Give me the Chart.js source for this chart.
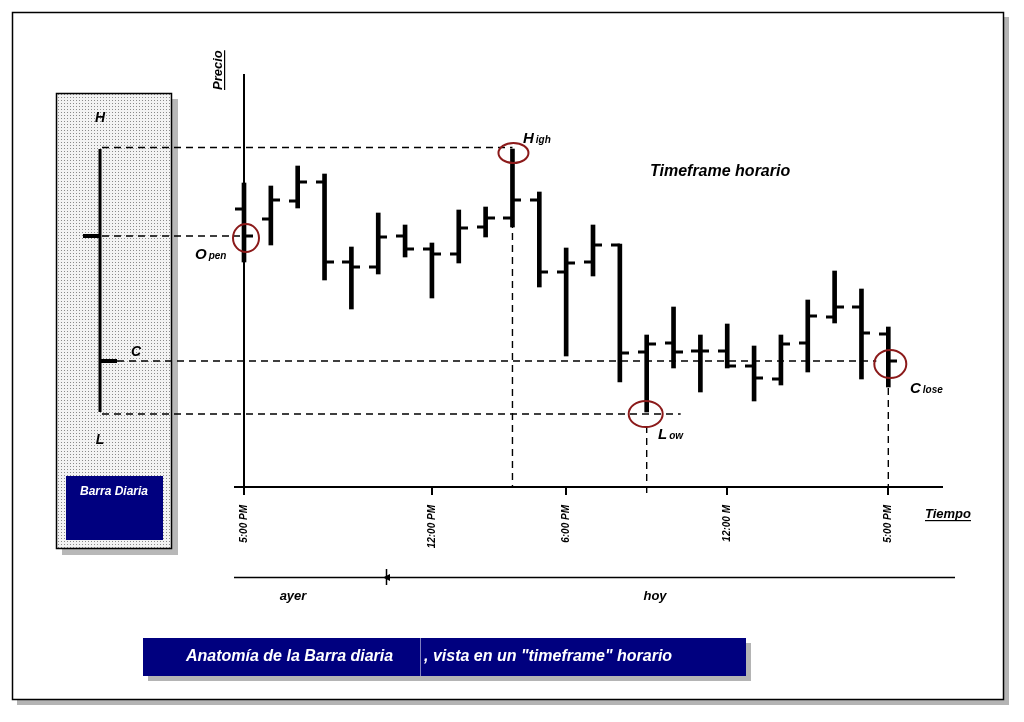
<!DOCTYPE html>
<html>
<head>
<meta charset="utf-8">
<script src="https://cdn.jsdelivr.net/npm/chart.js@4.4.1/dist/chart.umd.min.js"></script>
<style>
  html, body { margin: 0; padding: 0; background: #fff; }
  canvas { display: block; }
</style>
</head>
<body>
<canvas id="barChart" width="1024" height="722"></canvas>
<script>
// Hourly bars (price in arbitrary units)
const hours       = [0, 1, 2, 3, 4, 5, 6, 7, 8, 9, 10, 11, 12, 13, 14, 15, 16, 17, 18, 19, 20, 21, 22, 23, 24];
const openPrices  = [278, 268, 286, 305, 225, 220, 251, 238, 233, 260, 269, 287, 215, 225, 242, 135, 144, 136, 136, 121, 108, 144, 170, 180, 153];
const highPrices  = [304, 301, 321, 313, 240, 274, 262, 244, 277, 280, 338, 295, 239, 262, 243, 152, 180, 152, 163, 141, 152, 187, 216, 198, 160];
const lowPrices   = [225, 242, 279, 207, 178, 213, 230, 189, 224, 250, 260, 200, 131, 211, 105,  75, 119,  95, 119,  86, 102, 115, 164, 108, 100];
const closePrices = [251, 287, 305, 225, 220, 250, 238, 233, 259, 269, 287, 215, 224, 242, 134, 143, 135, 136, 121, 109, 143, 171, 180, 154, 126];

// Axis ticks
const tickHours  = [0, 7, 12, 18, 24];
const tickLabels = ['5:00 PM', '12:00 PM', '6:00 PM', '12:00 M', '5:00 PM'];

// The daily bar is the summary of the hourly ones
const dayOpen  = closePrices[0];
const dayHigh  = Math.max(...highPrices);
const dayLow   = Math.min(...lowPrices);
const dayClose = closePrices[closePrices.length - 1];
const highHour = highPrices.indexOf(dayHigh);
const lowHour  = lowPrices.indexOf(dayLow);

const FONT = '"Liberation Sans", Arial, sans-serif';
const RED = '#8b1a1a';
const NAVY = '#00007f';

function tickMark(side) {
  const c = document.createElement('canvas');
  c.width = 18; c.height = 4;
  const g = c.getContext('2d');
  g.fillStyle = '#000';
  if (side === 'left') g.fillRect(0, 0.5, 9, 3); else g.fillRect(9, 0.5, 9, 3);
  return c;
}

function dots() {
  const c = document.createElement('canvas');
  c.width = 3; c.height = 3;
  const g = c.getContext('2d');
  g.fillStyle = '#f3f3f3'; g.fillRect(0, 0, 3, 3);
  g.fillStyle = '#8a8a8a'; g.fillRect(1, 1, 1, 1);
  return c;
}

function dashed(ctx, x1, y1, x2, y2) {
  ctx.save();
  ctx.strokeStyle = '#000';
  ctx.lineWidth = 1.4;
  ctx.setLineDash([7, 5]);
  ctx.beginPath(); ctx.moveTo(x1, y1); ctx.lineTo(x2, y2); ctx.stroke();
  ctx.restore();
}

function ring(ctx, x, y, rx, ry) {
  ctx.save();
  ctx.strokeStyle = RED; ctx.lineWidth = 2;
  ctx.beginPath(); ctx.ellipse(x, y, rx, ry, 0, 0, Math.PI * 2); ctx.stroke();
  ctx.restore();
}

function word(ctx, big, small, x, y) {
  ctx.font = 'italic bold 15px ' + FONT;
  ctx.textAlign = 'left'; ctx.textBaseline = 'alphabetic';
  ctx.fillText(big, x, y);
  const w = ctx.measureText(big).width;
  ctx.font = 'italic bold 10px ' + FONT;
  ctx.fillText(small, x + w + 2, y);
}

function text(ctx, s, x, y, size, align) {
  ctx.font = 'italic bold ' + size + 'px ' + FONT;
  ctx.textAlign = align || 'center';
  ctx.textBaseline = 'middle';
  ctx.fillText(s, x, y);
}

const decor = {
  id: 'decor',
  beforeDraw(chart) {
    const ctx = chart.ctx;
    const y = chart.scales.y;
    ctx.save();
    ctx.fillStyle = '#fff'; ctx.fillRect(0, 0, 1024, 722);
    // page frame
    ctx.fillStyle = '#b4b4b4'; ctx.fillRect(17, 17, 992, 688);
    ctx.fillStyle = '#fff'; ctx.fillRect(12, 12, 992, 688);
    ctx.strokeStyle = '#000'; ctx.lineWidth = 1.5; ctx.strokeRect(12.5, 12.5, 991, 687);

    // side panel with the daily bar
    ctx.fillStyle = '#b8b8b8'; ctx.fillRect(62, 99, 116, 456);
    ctx.fillStyle = ctx.createPattern(dots(), 'repeat'); ctx.fillRect(56, 93, 116, 456);
    ctx.strokeStyle = '#000'; ctx.lineWidth = 1.5; ctx.strokeRect(56.5, 93.5, 115, 455);
    ctx.fillStyle = NAVY; ctx.fillRect(66, 476, 97, 64);
    ctx.fillStyle = '#fff'; text(ctx, 'Barra Diaria', 114, 492, 12);

    ctx.fillStyle = '#000';
    const hY = y.getPixelForValue(dayHigh), lY = y.getPixelForValue(dayLow);
    ctx.fillRect(98.5, hY, 3, lY - hY);
    ctx.fillRect(83, y.getPixelForValue(dayOpen) - 2, 17, 4);
    ctx.fillRect(100, y.getPixelForValue(dayClose) - 2, 17, 4);
    text(ctx, 'H', 100, 118, 14);
    text(ctx, 'L', 100, 440, 14);
    text(ctx, 'C', 136, 352, 14);

    // day divider line
    ctx.lineWidth = 1.5;
    ctx.beginPath(); ctx.moveTo(234, 577.5); ctx.lineTo(955, 577.5); ctx.stroke();
    ctx.beginPath(); ctx.moveTo(386.5, 569); ctx.lineTo(386.5, 585); ctx.stroke();
    ctx.beginPath(); ctx.moveTo(383, 577.5); ctx.lineTo(390, 574); ctx.lineTo(390, 581); ctx.closePath(); ctx.fill();
    text(ctx, 'ayer', 293, 596, 13);
    text(ctx, 'hoy', 655, 596, 13);

    // caption banner
    ctx.fillStyle = '#b4b4b4'; ctx.fillRect(148, 643, 603, 38);
    ctx.fillStyle = NAVY; ctx.fillRect(143, 638, 603, 38);
    ctx.fillStyle = '#7f7fbf'; ctx.fillRect(420, 638, 1, 38);
    ctx.fillStyle = '#fff';
    text(ctx, 'Anatomía de la Barra diaria', 186, 657, 16, 'left');
    text(ctx, ', vista en un "timeframe" horario', 424, 657, 16, 'left');

    // little stub of the time axis left of the price axis
    ctx.fillStyle = '#000';
    ctx.fillRect(234, chart.chartArea.bottom - 1, 10, 2);
    ctx.restore();
  },
  afterDatasetsDraw(chart) {
    const ctx = chart.ctx;
    const x = chart.scales.x, y = chart.scales.y;
    const base = chart.chartArea.bottom;
    ctx.save();
    const hX = x.getPixelForValue(highHour), hY = y.getPixelForValue(dayHigh);
    const lX = x.getPixelForValue(lowHour), lY = y.getPixelForValue(dayLow);
    const oX = x.getPixelForValue(0), oY = y.getPixelForValue(dayOpen);
    const cX = x.getPixelForValue(hours.length - 1), cY = y.getPixelForValue(dayClose);

    dashed(ctx, 102, hY - 1.5, hX, hY - 1.5);
    dashed(ctx, 102, oY, oX - 4, oY);
    dashed(ctx, 117, cY, cX - 12, cY);
    dashed(ctx, 102, lY + 2, lX + 34, lY + 2);
    dashed(ctx, hX, hY + 12, hX, base);
    dashed(ctx, lX, lY + 14, lX, base + 8);
    dashed(ctx, cX, cY + 15, cX, base + 8);

    ring(ctx, oX + 2, oY + 2, 13, 14);
    ring(ctx, hX + 1, hY + 4, 15, 10);
    ring(ctx, lX - 1, lY + 2, 17, 13);
    ring(ctx, cX + 2, cY + 3, 16, 14);

    ctx.fillStyle = '#000';
    word(ctx, 'O', 'pen', 195, 259);
    word(ctx, 'H', 'igh', 523, 143);
    word(ctx, 'L', 'ow', 658, 439);
    word(ctx, 'C', 'lose', 910, 393);

    text(ctx, 'Timeframe horario', 650, 172, 16, 'left');

    // axis titles
    ctx.font = 'italic bold 13px ' + FONT;
    ctx.textAlign = 'left'; ctx.textBaseline = 'alphabetic';
    ctx.fillText('Tiempo', 925, 518);
    let w = ctx.measureText('Tiempo').width;
    ctx.fillRect(925, 520, w, 1.2);
    ctx.save();
    ctx.translate(222, 90);
    ctx.rotate(-Math.PI / 2);
    ctx.fillText('Precio', 0, 0);
    w = ctx.measureText('Precio').width;
    ctx.fillRect(0, 2, w, 1.2);
    ctx.restore();
    ctx.restore();
  }
};

new Chart(document.getElementById('barChart'), {
  type: 'bar',
  data: {
    datasets: [
      {
        label: 'Rango',
        data: hours.map((h, i) => ({ x: h, y: [lowPrices[i], highPrices[i]] })),
        backgroundColor: '#000',
        borderWidth: 0,
        barThickness: 4,
        clip: false
      },
      {
        type: 'scatter',
        label: 'Apertura',
        data: hours.map((h, i) => ({ x: h, y: openPrices[i] })),
        pointStyle: tickMark('left'),
        pointRadius: 6,
        pointHoverRadius: 6,
        clip: false
      },
      {
        type: 'scatter',
        label: 'Cierre',
        data: hours.map((h, i) => ({ x: h, y: closePrices[i] })),
        pointStyle: tickMark('right'),
        pointRadius: 6,
        pointHoverRadius: 6,
        clip: false
      }
    ]
  },
  options: {
    responsive: false,
    animation: false,
    events: [],
    layout: { padding: { top: 75, right: 82, left: 0, bottom: 0 } },
    plugins: {
      legend: { display: false },
      tooltip: { enabled: false }
    },
    scales: {
      x: {
        type: 'linear',
        min: 0,
        max: 26,
        offset: false,
        afterFit: (s) => { s.height = 235; },
        afterBuildTicks: (s) => { s.ticks = tickHours.map(v => ({ value: v })); },
        ticks: {
          callback: (v) => tickLabels[tickHours.indexOf(v)],
          autoSkip: false,
          minRotation: 90,
          maxRotation: 90,
          padding: 10,
          color: '#000',
          font: { family: FONT, size: 10, style: 'italic', weight: 'bold' }
        },
        grid: { offset: false, drawOnChartArea: false, drawTicks: true, tickLength: 8, color: '#000', lineWidth: 2 },
        border: { display: true, color: '#000', width: 2 }
      },
      y: {
        min: 0,
        max: 412,
        afterFit: (s) => { s.width = 244; },
        ticks: { display: false },
        grid: { drawOnChartArea: false, drawTicks: false },
        border: { display: true, color: '#000', width: 2 }
      }
    }
  },
  plugins: [decor]
});
</script>
</body>
</html>
